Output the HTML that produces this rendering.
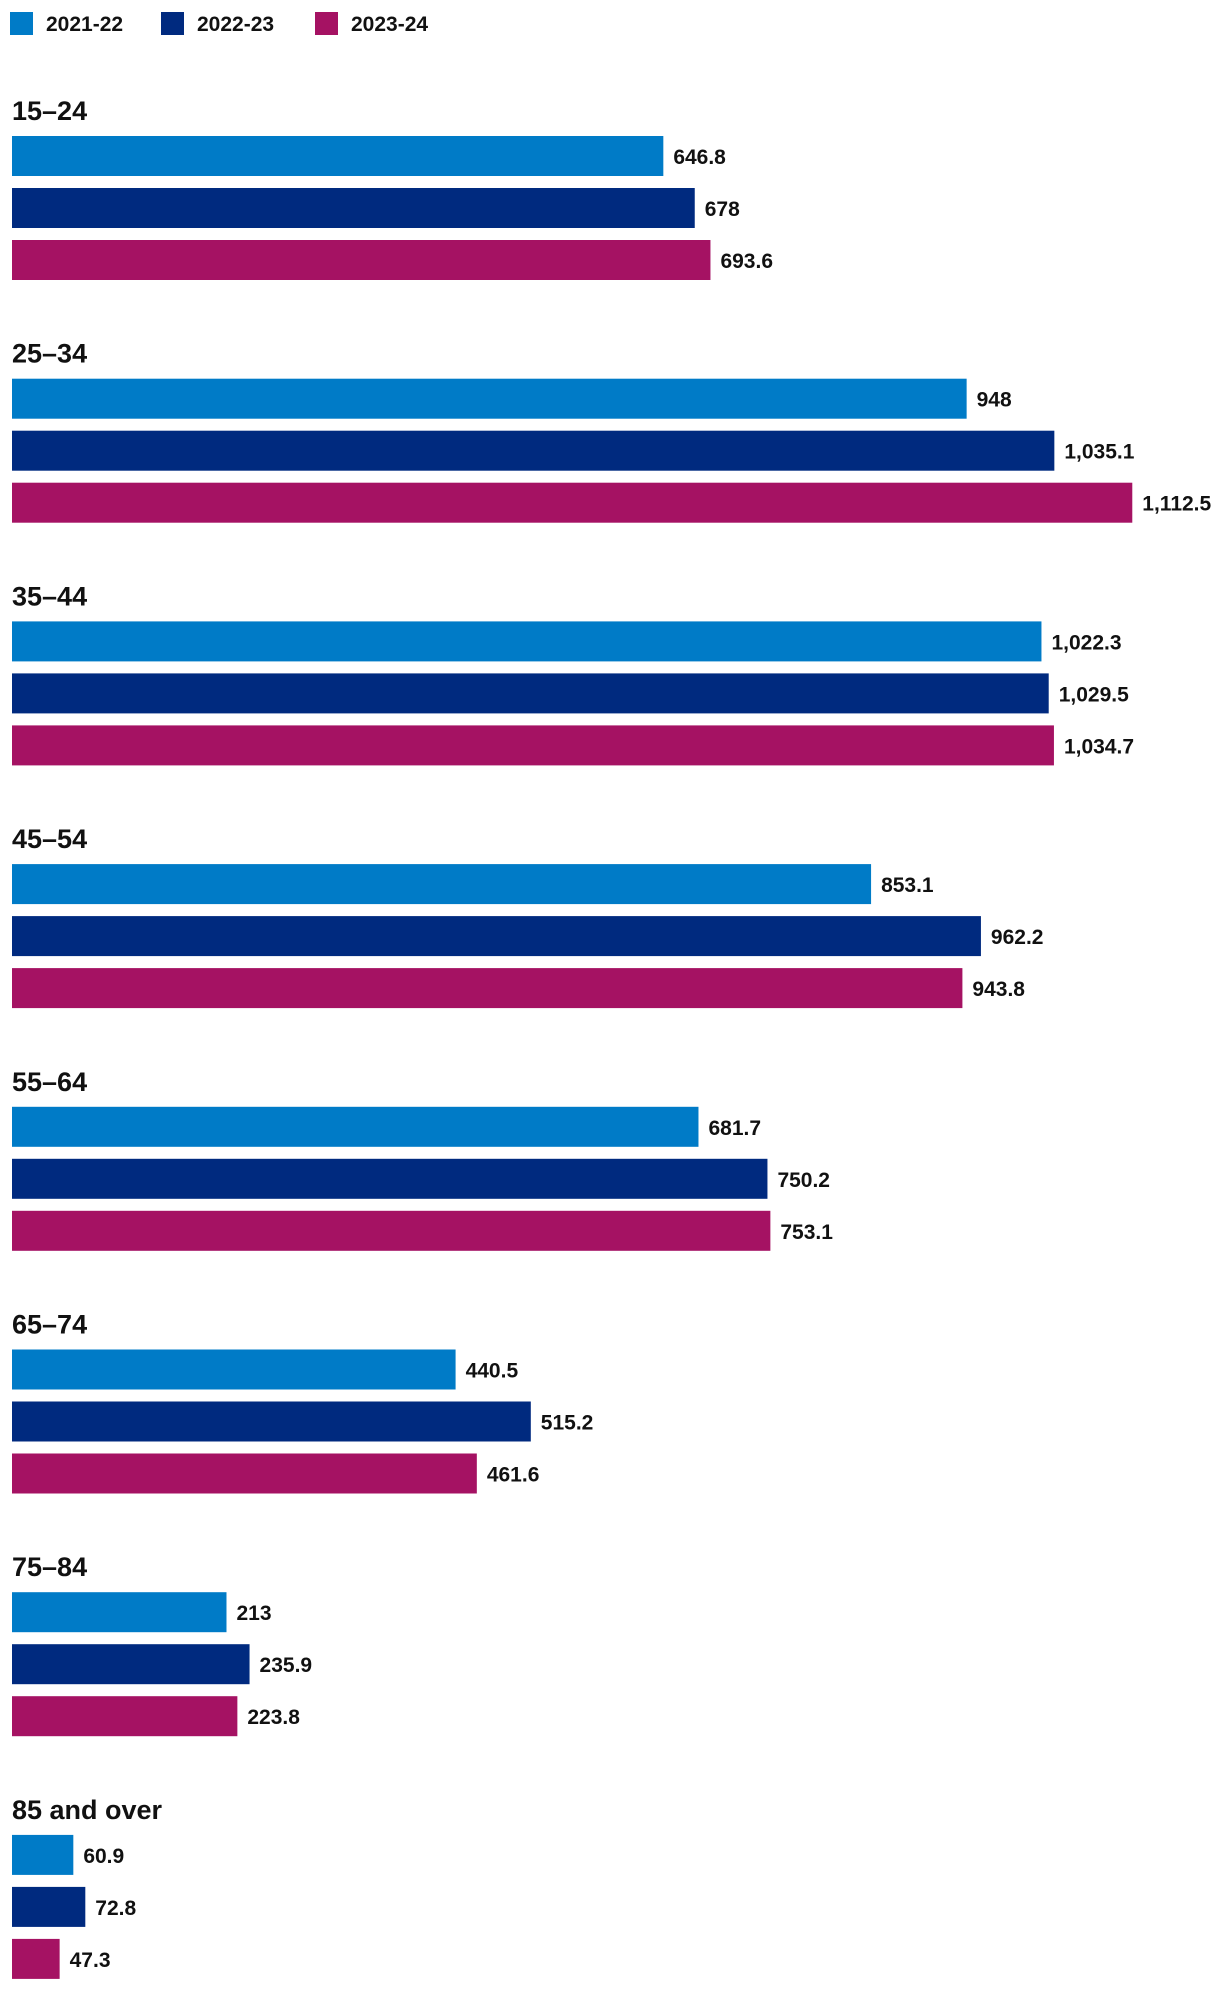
<!DOCTYPE html>
<html><head><meta charset="utf-8"><style>
body{margin:0;background:#fff;width:1220px;height:1984px;overflow:hidden;font-family:"Liberation Sans",sans-serif}
svg text{font-family:"Liberation Sans",sans-serif;fill:#111;font-weight:bold}
</style></head><body>
<svg id="chart" width="1220" height="1984" xmlns="http://www.w3.org/2000/svg">
<g>
<rect x="10" y="12" width="23" height="23" fill="#007BC7"/>
<text x="46" y="31" font-size="21">2021-22</text>
<rect x="161" y="12" width="23" height="23" fill="#002A7F"/>
<text x="197" y="31" font-size="21">2022-23</text>
<rect x="315" y="12" width="23" height="23" fill="#A51263"/>
<text x="351" y="31" font-size="21">2023-24</text>
</g>
<g id="bars"></g>
</svg>
<script>
const categories=["15–24","25–34","35–44","45–54","55–64","65–74","75–84","85 and over"];
const s2122=[646.8,948,1022.3,853.1,681.7,440.5,213,60.9];
const s2223=[678,1035.1,1029.5,962.2,750.2,515.2,235.9,72.8];
const s2324=[693.6,1112.5,1034.7,943.8,753.1,461.6,223.8,47.3];
const seriesNames=["2021-22","2022-23","2023-24"];
const colors=["#007BC7","#002A7F","#A51263"];
const series=[s2122,s2223,s2324];
const x=v=>12+v*1.007;
const groupY=i=>136+i*242.7;
const fmt=v=>v.toLocaleString('en-US',{maximumFractionDigits:1});
const g=document.getElementById('bars');
const NS="http://www.w3.org/2000/svg";
categories.forEach((c,i)=>{
  const gy=groupY(i);
  const t=document.createElementNS(NS,'text');
  
  
  t.setAttribute('x',12);t.setAttribute('y',gy-16);t.setAttribute('font-size','27');
  t.textContent=c;g.appendChild(t);
  series.forEach((s,k)=>{
    const y=gy+k*52;
    const r=document.createElementNS(NS,'rect');
    
    
    r.setAttribute('x',12);r.setAttribute('y',y);
    r.setAttribute('width',x(s[i])-12);r.setAttribute('height',40);
    r.setAttribute('fill',colors[k]);g.appendChild(r);
    const v=document.createElementNS(NS,'text');
    
    
    v.setAttribute('x',x(s[i])+10);v.setAttribute('y',y+28);v.setAttribute('font-size','21');
    v.textContent=fmt(s[i]);g.appendChild(v);
  });
});
</script>
</body></html>
